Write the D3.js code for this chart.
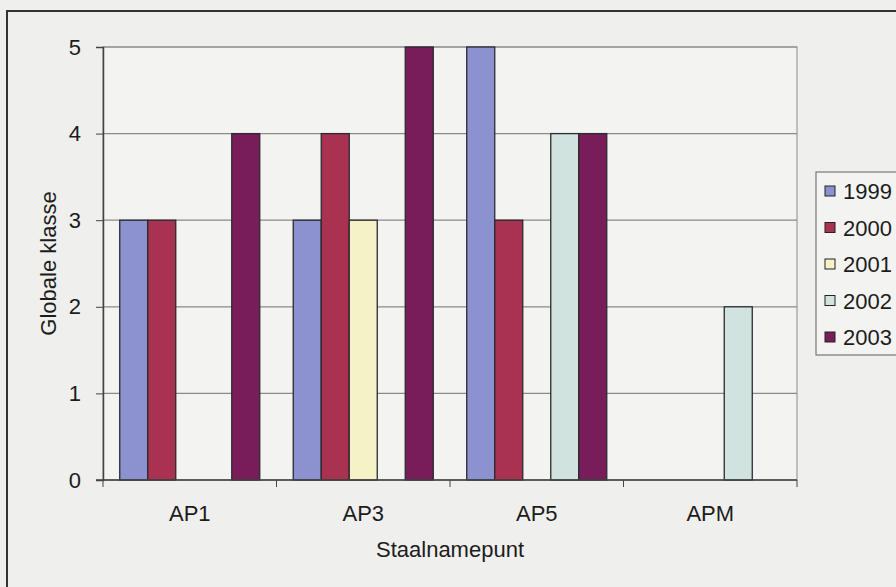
<!DOCTYPE html>
<html>
<head>
<meta charset="utf-8">
<script src="https://cdn.jsdelivr.net/npm/d3@7"></script>
<style>
  body { margin: 0; background: #efefed; }
  svg { display: block; font-family: "Liberation Sans", Arial, sans-serif; }
</style>
</head>
<body>
<svg id="chart"></svg>
<script>
// data
var categories = ["AP1", "AP3", "AP5", "APM"];
var years = ["1999", "2000", "2001", "2002", "2003"];
var values1999 = [3, 3, 5, null];
var values2000 = [3, 4, 3, null];
var values2001 = [null, 3, null, null];
var values2002 = [null, null, 4, 2];
var values2003 = [4, 5, 4, null];
var yTicks = [0, 1, 2, 3, 4, 5];

var seriesValues = [values1999, values2000, values2001, values2002, values2003];
var colors = ["#8c92cf", "#a8324f", "#f4f2c6", "#d0e3df", "#781d5a"];

var width = 896, height = 587;
var margin = {top: 47, right: 99, bottom: 107, left: 103};
var fontSize = "22px";

var svg = d3.select("#chart")
    .attr("width", width)
    .attr("height", height);

// outer frame of the chart (only top and left edge are in the picture)
svg.append("path")
    .attr("d", "M7,600 L7,11 L900,11")
    .attr("fill", "none")
    .attr("stroke", "#333")
    .attr("stroke-width", 2);

var plotW = width - margin.left - margin.right;
var plotH = height - margin.top - margin.bottom;

var g = svg.append("g")
    .attr("transform", "translate(" + margin.left + "," + margin.top + ")");

var x = d3.scaleBand().domain(categories).range([0, plotW]).paddingInner(0).paddingOuter(0);
var xInner = d3.scaleBand().domain(years)
    .range([x.bandwidth() * 0.0965, x.bandwidth() * 0.9035]);
var y = d3.scaleLinear().domain([0, 5]).range([plotH, 0]);

// plot area background + gridlines
g.append("rect")
    .attr("width", plotW)
    .attr("height", plotH)
    .attr("fill", "#f3f3f1")
    .attr("stroke", "#8a8a8a")
    .attr("stroke-width", 1);

g.selectAll(".grid")
    .data(yTicks)
    .enter().append("line")
    .attr("class", "grid")
    .attr("x1", 0)
    .attr("x2", plotW)
    .attr("y1", function(d) { return y(d); })
    .attr("y2", function(d) { return y(d); })
    .attr("stroke", "#8a8a8a")
    .attr("stroke-width", 1.2);

// bars
var bars = [];
seriesValues.forEach(function(vals, si) {
    vals.forEach(function(v, ci) {
        if (v != null) bars.push({cat: categories[ci], year: years[si], value: v, color: colors[si]});
    });
});

g.selectAll(".bar")
    .data(bars)
    .enter().append("rect")
    .attr("class", "bar")
    .attr("x", function(d) { return x(d.cat) + xInner(d.year); })
    .attr("y", function(d) { return y(d.value); })
    .attr("width", xInner.bandwidth())
    .attr("height", function(d) { return plotH - y(d.value); })
    .attr("fill", function(d) { return d.color; })
    .attr("stroke", "#2a2a30")
    .attr("stroke-width", 1.3);

// y axis
var yAxis = g.append("g")
    .call(d3.axisLeft(y).tickValues(yTicks).tickFormat(d3.format("d")).tickSize(7).tickPadding(15));
yAxis.select(".domain").attr("stroke", "#444").attr("stroke-width", 1.5);
yAxis.selectAll(".tick line").attr("stroke", "#444");
yAxis.selectAll("text")
    .style("font-size", fontSize)
    .style("font-family", "Liberation Sans, Arial, sans-serif")
    .attr("fill", "#1c1c1c");

// x axis: ticks sit between the categories
var xAxis = g.append("g")
    .attr("transform", "translate(0," + plotH + ")");
xAxis.append("line")
    .attr("x1", -7).attr("x2", plotW)
    .attr("stroke", "#444").attr("stroke-width", 1.5);
var bounds = categories.map(function(c) { return x(c); }).concat([plotW]);
xAxis.selectAll(".xtick")
    .data(bounds)
    .enter().append("line")
    .attr("x1", function(d) { return d; })
    .attr("x2", function(d) { return d; })
    .attr("y1", 0).attr("y2", 7)
    .attr("stroke", "#444");
xAxis.selectAll(".xlabel")
    .data(categories)
    .enter().append("text")
    .attr("x", function(d) { return x(d) + x.bandwidth() / 2; })
    .attr("y", 41)
    .attr("text-anchor", "middle")
    .style("font-size", fontSize)
    .attr("fill", "#1c1c1c")
    .text(function(d) { return d; });

// axis titles
svg.append("text")
    .attr("transform", "translate(56," + (margin.top + plotH / 2) + ") rotate(-90)")
    .attr("text-anchor", "middle")
    .style("font-size", fontSize)
    .attr("fill", "#1c1c1c")
    .text("Globale klasse");

svg.append("text")
    .attr("x", margin.left + plotW / 2)
    .attr("y", 557)
    .attr("text-anchor", "middle")
    .style("font-size", fontSize)
    .attr("fill", "#1c1c1c")
    .text("Staalnamepunt");

// legend
var legend = svg.append("g").attr("transform", "translate(816,172)");
legend.append("rect")
    .attr("width", 100)
    .attr("height", 183)
    .attr("fill", "#f3f3f1")
    .attr("stroke", "#777")
    .attr("stroke-width", 1.2);

var item = legend.selectAll(".item")
    .data(years)
    .enter().append("g")
    .attr("class", "item")
    .attr("transform", function(d, i) { return "translate(0," + (19 + i * 36.5) + ")"; });
item.append("rect")
    .attr("x", 9).attr("y", -5)
    .attr("width", 10).attr("height", 10)
    .attr("fill", function(d, i) { return colors[i]; })
    .attr("stroke", "#222");
item.append("text")
    .attr("x", 27).attr("y", 8)
    .style("font-size", fontSize)
    .attr("fill", "#1c1c1c")
    .text(function(d) { return d; });
</script>
</body>
</html>
